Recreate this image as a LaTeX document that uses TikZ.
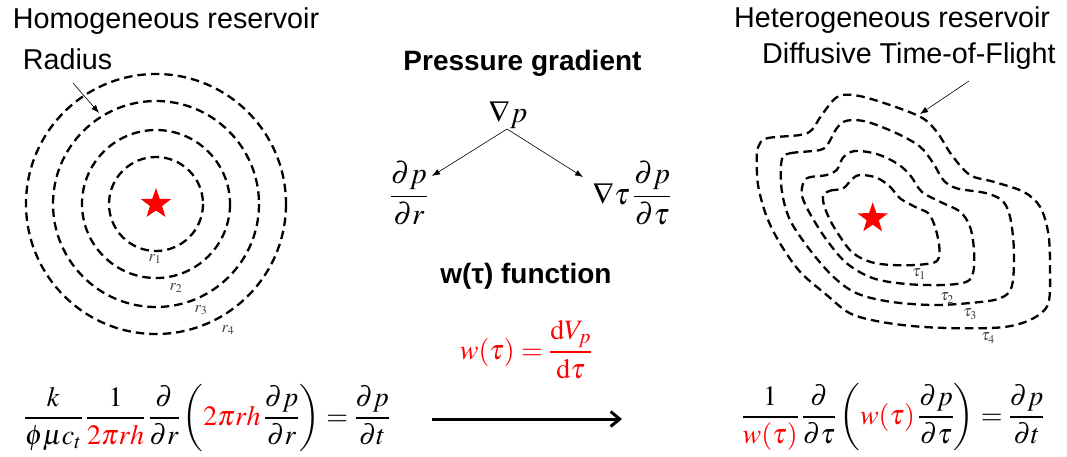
\documentclass[tikz,border=0pt]{standalone}
\usepackage{amsmath}
\usepackage{mathptmx}
\usepackage[no-math]{fontspec}
\setmainfont{Liberation Sans}
\usetikzlibrary{shapes.geometric,arrows.meta}
\begin{document}
\begin{tikzpicture}[x=1pt,y=-1pt,
  lbl/.style={font=\fontsize{28.7}{32}\selectfont, anchor=base west, inner sep=0pt},
  blbl/.style={font=\fontsize{28}{32}\selectfont\bfseries, anchor=base, inner sep=0pt},
  eqn/.style={font=\fontsize{28}{32}\selectfont, anchor=base, inner sep=0pt},
  smalleq/.style={font=\fontsize{30}{34}\selectfont, anchor=base, inner sep=0pt},
  sublbl/.style={font=\fontsize{16}{18}\selectfont, text=black!75, inner sep=0pt},
  contour/.style={line width=2.3pt, dash pattern=on 8.5pt off 5pt},
  leader/.style={line width=0.6pt, -{Latex[length=8pt,width=6pt]}},
  well/.style={star, star points=5, star point ratio=2.5, fill=red, minimum size=32pt, inner sep=0pt}]
\useasboundingbox (0,0) rectangle (1067,456);
% titles
\node[lbl] (homt) at (12.7,28) {Homogeneous reservoir};
\node[lbl] (radius) at (22.7,69) {Radius};
\node[lbl] (hett) at (734,27) {Heterogeneous reservoir};
\node[lbl] (dtof) at (762,63) {Diffusive Time-of-Flight};
\node[blbl] (pg) at (522.5,70.7) {Pressure gradient};
\node[blbl] (wf) at (526,283) {w(τ) function};
% homogeneous reservoir
\node[well] (w1) at (156,204) {};
\foreach \r in {47,74,103,130}{\draw[contour] (w1.center) circle[radius=\r];}
\node[sublbl] (r1) at (155,259) {$r_1$};
\node[sublbl] (r2) at (176,288) {$r_2$};
\node[sublbl] (r3) at (201,310) {$r_3$};
\node[sublbl] (r4) at (228,330) {$r_4$};
\coordinate (ra) at (73,83);
\coordinate (rb) at (99,113);
\draw[leader] (ra) -- (rb);
% heterogeneous reservoir
\node[well] (w2) at (872.7,218.3) {};
\draw[contour] plot[smooth cycle, tension=0.55] coordinates {
 (758.3,146.7) (766.7,138.3) (800,135) (811.7,130) (821.7,115) (836.7,97.3) (853.3,95) (880,101.7)
 (920,116.7) (936.7,131.7) (951.7,155) (970,175) (993.3,181.7) (1023.3,191.7) (1040,206.7)
 (1048.3,233.3) (1050,266.7) (1048.3,303.3) (1033.3,318.3) (1006.7,326.7) (966.7,328.3) (920,326.7)
 (880,321.7) (850,313.3) (826.7,295) (800,271.7) (780,243.3) (766.7,216.7) (758.3,186.7) (756.7,160)};
\draw[contour] plot[smooth cycle, tension=0.55] coordinates {
 (781.7,160) (790,153.3) (820,150) (828.3,143.3) (836.7,128.3) (846.7,120.7) (866.7,121.7) (896.7,133.3)
 (920,146.7) (933.3,163.3) (943.3,180) (956.7,188.3) (986.7,193.3) (1003.3,201.7) (1010.7,220)
 (1014,253.3) (1011.7,286.7) (1000,298.3) (973.3,302.7) (933.3,305) (890,301.7) (856.7,293.3)
 (833.3,276.7) (810,250) (790,220) (781.7,190)};
\draw[contour] plot[smooth cycle, tension=0.55] coordinates {
 (801.7,190) (806.7,178.3) (826.7,175) (836.7,170) (843.3,157.3) (855,151) (876.7,154) (896.7,163.3)
 (910,175) (921.7,191.7) (940,201.7) (960,211.7) (970,226.7) (974,250) (973.3,271.7) (966.7,281.7)
 (943.3,285) (906.7,284) (873.3,278.3) (846.7,263.3) (826.7,240) (811.7,216.7) (803.3,200)};
\draw[contour] plot[smooth cycle, tension=0.55] coordinates {
 (823.3,195) (830,190.7) (843.3,188.3) (851.7,179.3) (860,175) (876.7,177.7) (890,186.7) (900,198.3)
 (916.7,207.7) (928.3,213.3) (935,226.7) (939.3,246.7) (937.7,260) (926.7,264) (900,265.3)
 (873.3,262.7) (853.3,253.3) (840,236.7) (830,220) (824,205)};
\node[sublbl] (t1) at (919,274) {$\tau_1$};
\node[sublbl] (t2) at (947,298) {$\tau_2$};
\node[sublbl] (t3) at (970,314) {$\tau_3$};
\node[sublbl] (t4) at (988,338) {$\tau_4$};
\coordinate (da) at (969,81);
\coordinate (db) at (920,114);
\draw[leader] (da) -- (db);
% pressure gradient
\node[smalleq] (gp) at (508,122) {$\nabla p$};
\node[smalleq] (dpr) at (409,204) {$\dfrac{\partial p}{\partial r}$};
\node[smalleq] (dpt) at (632,204) {$\nabla\tau\,\dfrac{\partial p}{\partial\tau}$};
\coordinate (ga) at (507,129);
\coordinate (gl) at (432,176);
\coordinate (gr) at (583,177);
\draw[leader] (ga) -- (gl);
\draw[leader] (ga) -- (gr);
% w(tau)
\node[eqn, text=red] (wt) at (526,359) {$w(\tau)=\dfrac{\mathrm{d}V_p}{\mathrm{d}\tau}$};
% equations
\node[eqn] (eqL) at (207,425) {$\dfrac{k}{\phi\mu c_t}\,\dfrac{1}{\color{red}2\pi rh}\,\dfrac{\partial}{\partial r}\left({\color{red}2\pi rh}\,\dfrac{\partial p}{\partial r}\right)=\dfrac{\partial p}{\partial t}$};
\node[eqn] (eqR) at (893,424) {$\dfrac{1}{\color{red}w(\tau)}\,\dfrac{\partial}{\partial\tau}\left({\color{red}w(\tau)}\,\dfrac{\partial p}{\partial\tau}\right)=\dfrac{\partial p}{\partial t}$};
\coordinate (aa) at (432,419);
\coordinate (ab) at (622,419);
\draw[line width=3pt, -{Straight Barb[length=9pt,width=15pt]}] (aa) -- (ab);
\end{tikzpicture}
\end{document}
